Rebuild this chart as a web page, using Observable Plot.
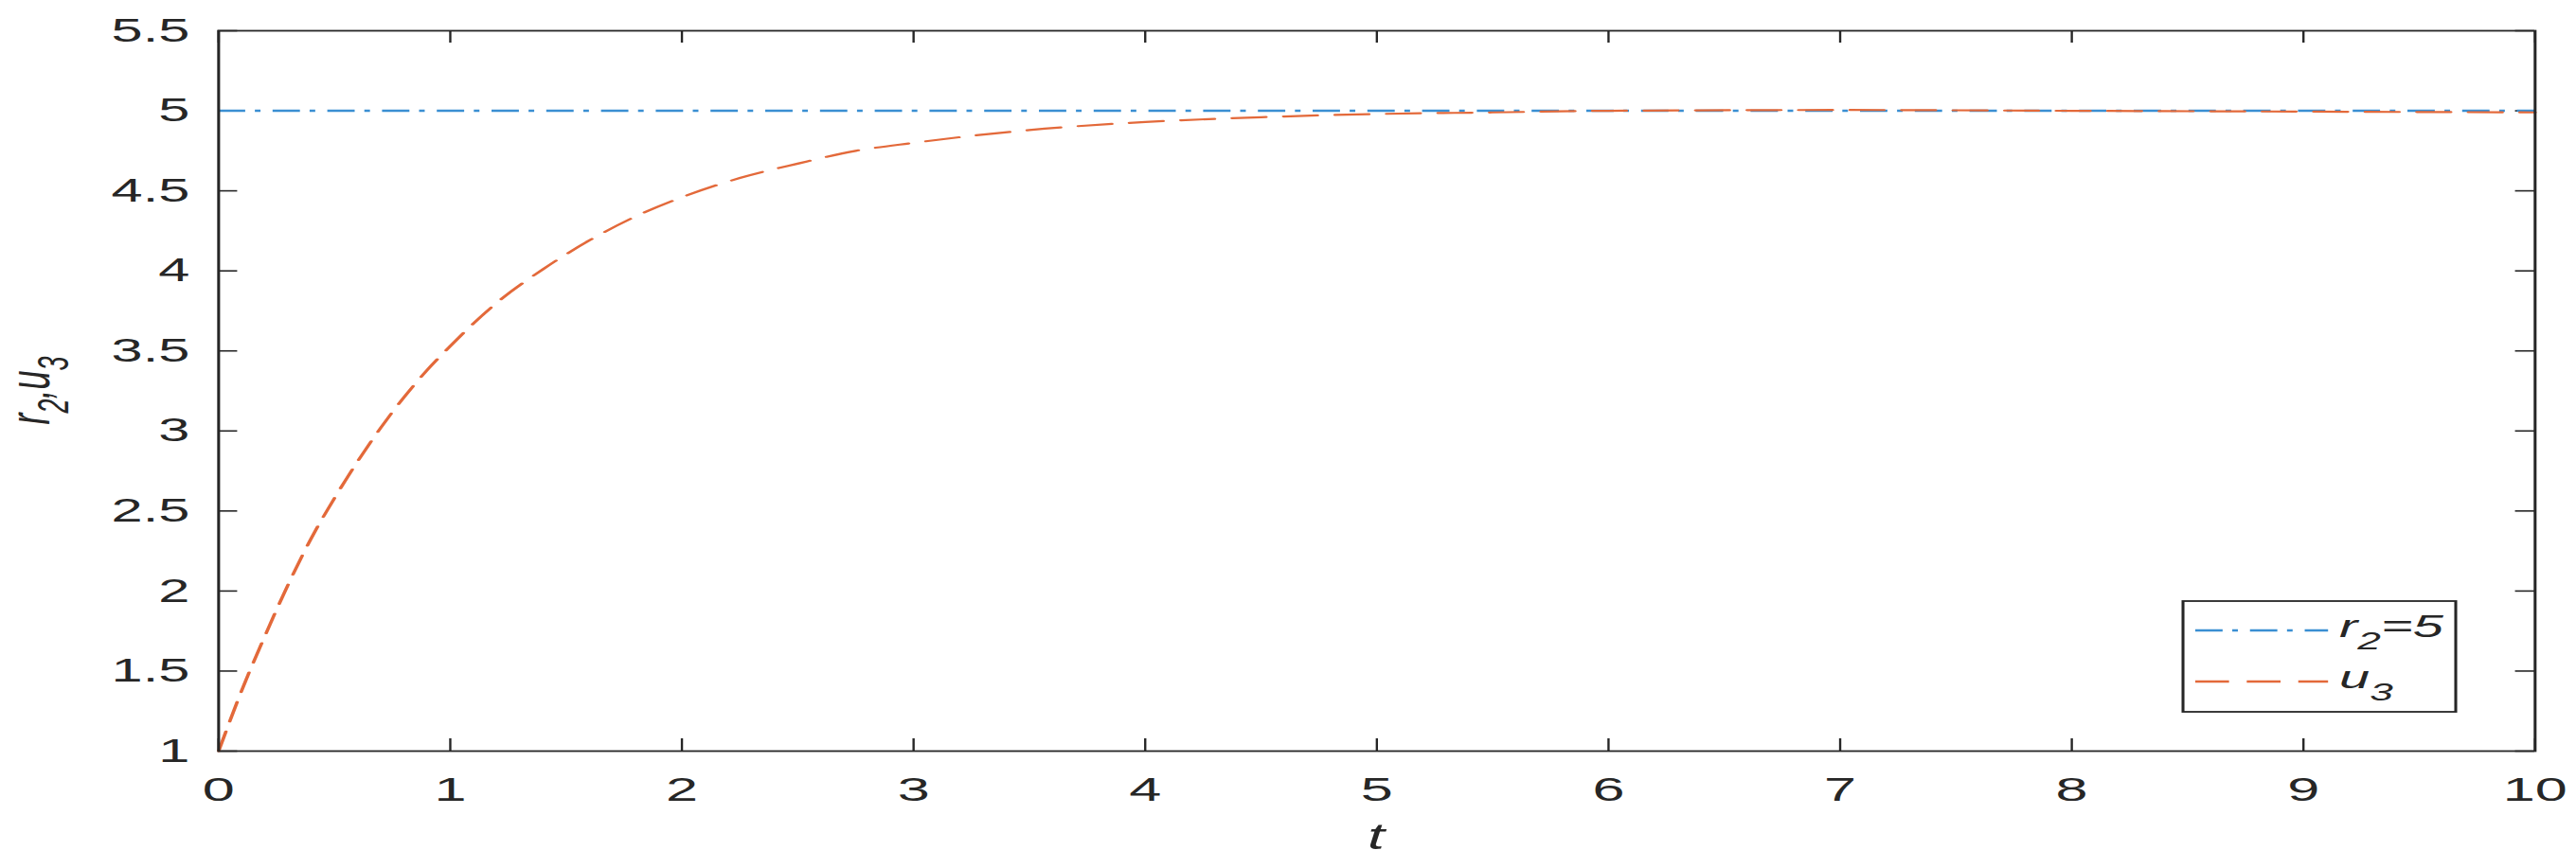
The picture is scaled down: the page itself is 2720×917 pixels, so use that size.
<!DOCTYPE html>
<html>
<head>
<meta charset="utf-8">
<script src="https://cdn.jsdelivr.net/npm/d3@7"></script>
<script src="https://cdn.jsdelivr.net/npm/@observablehq/plot@0.6"></script>
<style>
  body { margin: 0; background: #fff; }
  #chart svg { display: block; }
</style>
</head>
<body>
<div id="chart"></div>
<script>
// ---- data ----
const tValues  = [0, 0.1, 0.2, 0.3, 0.4, 0.5, 0.6, 0.7, 0.8, 0.9, 1.0, 1.2, 1.4, 1.6, 1.8, 2.0, 2.25, 2.5, 2.75, 3.0, 3.5, 4.0, 4.5, 5.0, 5.5, 6.0, 7.0, 8.0, 9.0, 10.0];
const u3Values = [1, 1.38, 1.72, 2.04, 2.33, 2.58, 2.81, 3.02, 3.21, 3.38, 3.53, 3.80, 4.01, 4.19, 4.34, 4.46, 4.58, 4.67, 4.75, 4.80, 4.88, 4.93, 4.96, 4.98, 4.99, 5.0, 5.005, 5.0, 4.995, 4.99];
const r2Value = 5;
const xTicks = [0, 1, 2, 3, 4, 5, 6, 7, 8, 9, 10];
const yTicks = [1, 1.5, 2, 2.5, 3, 3.5, 4, 4.5, 5, 5.5];
const xLabel = "t";

// ---- layout (drawn in a narrower space, then stretched horizontally like the reference) ----
const W = 1600, H = 917;
const mL = 135.3, mR = 25.9, mT = 32, mB = 124;
const fw = W - mL - mR, fh = H - mT - mB;
const blue = "#3a8fd2", orange = "#e3693a", ink = "#262626";
const font = "'Liberation Sans', Arial, Helvetica, sans-serif";
const plain = d => String(d);

const u3 = tValues.map((t, i) => ({t, u: u3Values[i]}));

const plot = Plot.plot({
  width: W, height: H,
  marginLeft: mL, marginRight: mR, marginTop: mT, marginBottom: mB,
  style: {fontFamily: font, fontSize: "35px", color: ink, background: "white", overflow: "visible"},
  x: {domain: [0, 10], label: null},
  y: {domain: [1, 5.5], label: null},
  marks: [
    Plot.axisX(xTicks, {tickSize: 0, tickPadding: 27, fontSize: 36, fill: ink, label: null, tickFormat: plain}),
    Plot.axisY(yTicks, {tickSize: 0, tickPadding: 18, fontSize: 35, fill: ink, label: null, tickFormat: plain}),
    // inward ticks (bottom / top / left / right)
    Plot.tickX(xTicks, {x: d => d, stroke: ink, strokeWidth: 1.4, insetTop: fh - 13}),
    Plot.tickX(xTicks, {x: d => d, stroke: ink, strokeWidth: 1.4, insetBottom: fh - 13}),
    Plot.tickY(yTicks, {y: d => d, stroke: ink, strokeWidth: 1.6, insetRight: fw - 12}),
    Plot.tickY(yTicks, {y: d => d, stroke: ink, strokeWidth: 1.6, insetLeft: fw - 12}),
    Plot.ruleY([r2Value], {stroke: blue, strokeWidth: 2.4, strokeDasharray: "17,6,3.5,7.5"}),
    Plot.line(u3, {x: "t", y: "u", stroke: orange, strokeWidth: 2.2, strokeDasharray: "21,11", curve: "monotone-x"}),
    Plot.frame({stroke: ink, strokeWidth: 1.8})
  ]
});

// stretch horizontally
plot.setAttribute("width", 2720);
plot.setAttribute("height", 917);
plot.setAttribute("preserveAspectRatio", "none");
plot.style.maxWidth = "none";
plot.style.width = "2720px";
plot.style.height = "917px";

const svg = d3.select(plot);

// x axis label
svg.append("text")
  .attr("x", mL + fw / 2).attr("y", 897)
  .attr("text-anchor", "middle")
  .attr("font-family", font).attr("font-style", "italic").attr("font-size", 38)
  .attr("fill", ink)
  .text(xLabel);

// y axis label r_2,u_3
const yl = svg.append("text")
  .attr("transform", `translate(30.6, ${mT + fh / 2}) rotate(-90)`)
  .attr("text-anchor", "middle")
  .attr("font-family", font).attr("font-style", "italic").attr("font-size", 36)
  .attr("fill", ink);
yl.append("tspan").text("r");
yl.append("tspan").attr("font-size", 27).attr("dy", 12).text("2");
yl.append("tspan").attr("dy", -12).text(",u");
yl.append("tspan").attr("font-size", 27).attr("dy", 12).text("3");

// legend
const lg = svg.append("g");
const bx0 = 1355.9, bx1 = 1525.3, by0 = 635, by1 = 752;
lg.append("rect").attr("x", bx0).attr("y", by0).attr("width", bx1 - bx0).attr("height", by1 - by0)
  .attr("fill", "white").attr("stroke", ink).attr("stroke-width", 1.8);
const rows = [
  {y: 666, stroke: blue, dash: "17,6,3.5,7.5", main: "r", sub: "2", tail: "=5"},
  {y: 720, stroke: orange, dash: "21,11", main: "u", sub: "3", tail: ""}
];
rows.forEach(r => {
  lg.append("line").attr("x1", 1363.5).attr("x2", 1446).attr("y1", r.y).attr("y2", r.y)
    .attr("stroke", r.stroke).attr("stroke-width", 2.4).attr("stroke-dasharray", r.dash);
  const tx = lg.append("text").attr("x", 1453).attr("y", r.y + 7)
    .attr("text-anchor", "start")
    .attr("font-family", font).attr("font-style", "italic").attr("font-size", 34).attr("fill", ink);
  tx.append("tspan").text(r.main);
  tx.append("tspan").attr("font-size", 26).attr("dy", 13).text(r.sub);
  if (r.tail) tx.append("tspan").attr("dy", -13).text(r.tail);
});

document.getElementById("chart").appendChild(plot);
</script>
</body>
</html>
